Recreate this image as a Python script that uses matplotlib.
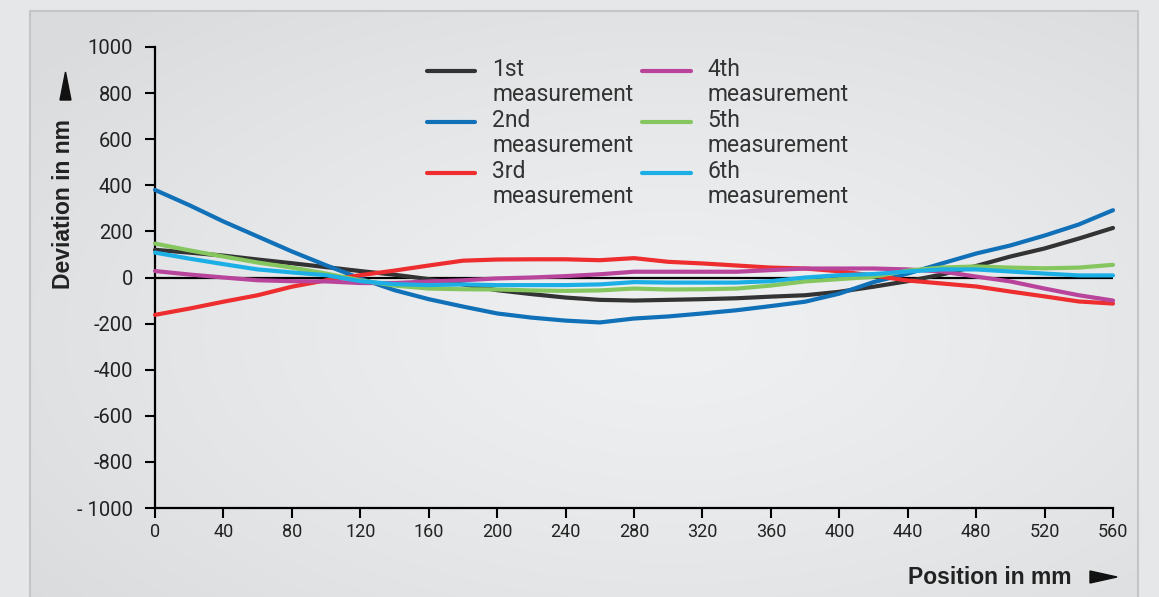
import matplotlib
matplotlib.use('Agg')
import matplotlib.pyplot as plt
import numpy as np
from matplotlib.legend_handler import HandlerLine2D
from matplotlib.patches import Polygon, Rectangle

# position along the axis (mm) and deviations (nm)
position = np.arange(0, 561, 20)
first = [120, 108, 95, 78, 62, 45, 28, 12, -7, -30, -55, -72, -87, -97, -100,
         -97, -94, -90, -83, -77, -62, -40, -16, 13, 50, 91, 126, 169, 215]
second = [380, 314, 243, 178, 113, 53, -4, -55, -94, -126, -156, -174, -187, -195, -178,
          -169, -156, -142, -124, -105, -70, -20, 17, 61, 104, 139, 182, 230, 292]
third = [-162, -135, -105, -77, -40, -12, 10, 30, 52, 73, 78, 79, 79, 75, 84,
         68, 61, 52, 43, 39, 27, 8, -13, -26, -39, -61, -82, -104, -113]
fourth = [28, 13, 0, -12, -16, -17, -24, -24, -17, -12, -4, 0, 6, 14, 25,
          25, 25, 25, 32, 39, 39, 39, 35, 26, 4, -17, -48, -77, -100]
fifth = [147, 118, 91, 65, 43, 17, -12, -35, -48, -51, -52, -56, -58, -56, -48,
         -52, -51, -48, -35, -17, -7, 3, 30, 43, 48, 43, 40, 43, 55]
sixth = [108, 82, 58, 35, 22, 10, -16, -29, -33, -30, -33, -33, -33, -30, -20,
         -22, -22, -22, -16, 0, 10, 15, 26, 35, 35, 26, 17, 9, 9]

series = [first, second, third, fourth, fifth, sixth]
labels = ['1st\nmeasurement', '2nd\nmeasurement', '3rd\nmeasurement',
          '4th\nmeasurement', '5th\nmeasurement', '6th\nmeasurement']
colors = ['#333333', '#1070b8', '#ee2d2f', '#b9449b', '#86c65e', '#1cafe6']

yticks = [1000, 800, 600, 400, 200, 0, -200, -400, -600, -800, -1000]
ytick_labels = ['1000', '800', '600', '400', '200', '0', '-200', '-400', '-600', '-800', '- 1000']
xticks = list(range(0, 561, 40))

W, H = 1159, 597
light = 'Roboto'
fig = plt.figure(figsize=(W / 100, H / 100), dpi=100)
fig.patch.set_facecolor('#e6e7e9')

# panel with a soft radial gradient
bg = fig.add_axes([30 / W, 0, (1138 - 30) / W, 1 - 11 / H])
bg.set_axis_off()
gh, gw = 300, 560
yy, xx = np.mgrid[0:gh, 0:gw]
r = np.clip(np.hypot((xx - gw * 0.58) / gw, (yy - gh * 0.55) / gh) / 0.75, 0, 1)
edge = np.array([218, 219, 221]) / 255
centre = np.array([239, 240, 241]) / 255
img = centre + (edge - centre) * (r[..., None] ** 1.3)
bg.imshow(img, aspect='auto', extent=[0, 1, 0, 1])
bg.set_xlim(0, 1)
bg.set_ylim(0, 1)
bg.add_patch(Rectangle((0, -0.1), 1, 1.1, fill=False, edgecolor='#c4c5c7', lw=1.5,
                       clip_on=False))

ax = fig.add_axes([155 / W, 1 - 508 / H, 958 / W, 461 / H])
ax.patch.set_alpha(0)
ax.axhline(0, color='black', lw=1.6, zorder=1)
for vals, lab, col in zip(series, labels, colors):
    ax.plot(position, vals, color=col, lw=3, label=lab, solid_capstyle='round',
            zorder=3, clip_on=False)

ax.set_xlim(0, 560)
ax.set_ylim(-1000, 1000)
ax.set_xticks(xticks)
ax.set_xticklabels([str(t) for t in xticks], fontsize=13, family=light, color='#222222')
ax.set_yticks(yticks)
ax.set_yticklabels(ytick_labels, fontsize=14.5, family=light, color='#222222')
ax.tick_params(axis='y', length=7, width=1.5, pad=9)
ax.tick_params(axis='x', length=7, width=1.5, pad=4)
for s in ['top', 'right']:
    ax.spines[s].set_visible(False)
for s in ['left', 'bottom']:
    ax.spines[s].set_linewidth(1.6)


class RaisedLine(HandlerLine2D):
    # put the handle next to the first line of a two-line label
    def create_artists(self, legend, orig_handle, xdescent, ydescent, width, height,
                       fontsize, trans):
        arts = super().create_artists(legend, orig_handle, xdescent, ydescent, width,
                                      height, fontsize, trans)
        for a in arts:
            a.set_ydata(np.asarray(a.get_ydata()) + 0.52 * fontsize)
        return arts


leg = ax.legend(loc='upper left', bbox_to_anchor=(427 / W, 1 - 58 / H),
                bbox_transform=fig.transFigure, ncol=2, frameon=False,
                prop={'family': light, 'size': 16.5}, handlelength=2.1,
                handletextpad=0.74, columnspacing=0.4, labelspacing=0.15,
                borderpad=0, borderaxespad=0,
                handler_map={matplotlib.lines.Line2D: RaisedLine()})
for t in leg.get_texts():
    t.set_color('#333333')
    t.set_linespacing(1.1)

fig.text(64 / W, 1 - 204 / H, 'Deviation in nm', rotation=90, ha='center', va='center',
         fontsize=16.5, fontweight='bold', family='Liberation Sans', color='#222222')
fig.add_artist(Polygon([(60 / W, 1 - 100 / H), (71 / W, 1 - 100 / H), (65.5 / W, 1 - 72 / H)],
                       closed=True, color='#111111', transform=fig.transFigure))
fig.text(1072 / W, 1 - 577 / H, 'Position in mm', ha='right', va='center',
         fontsize=16.5, fontweight='bold', family='Liberation Sans', color='#222222')
fig.add_artist(Polygon([(1090 / W, 1 - 571 / H), (1090 / W, 1 - 583 / H), (1117 / W, 1 - 577 / H)],
                       closed=True, color='#111111', transform=fig.transFigure))

fig.savefig('out.png', dpi=100)
